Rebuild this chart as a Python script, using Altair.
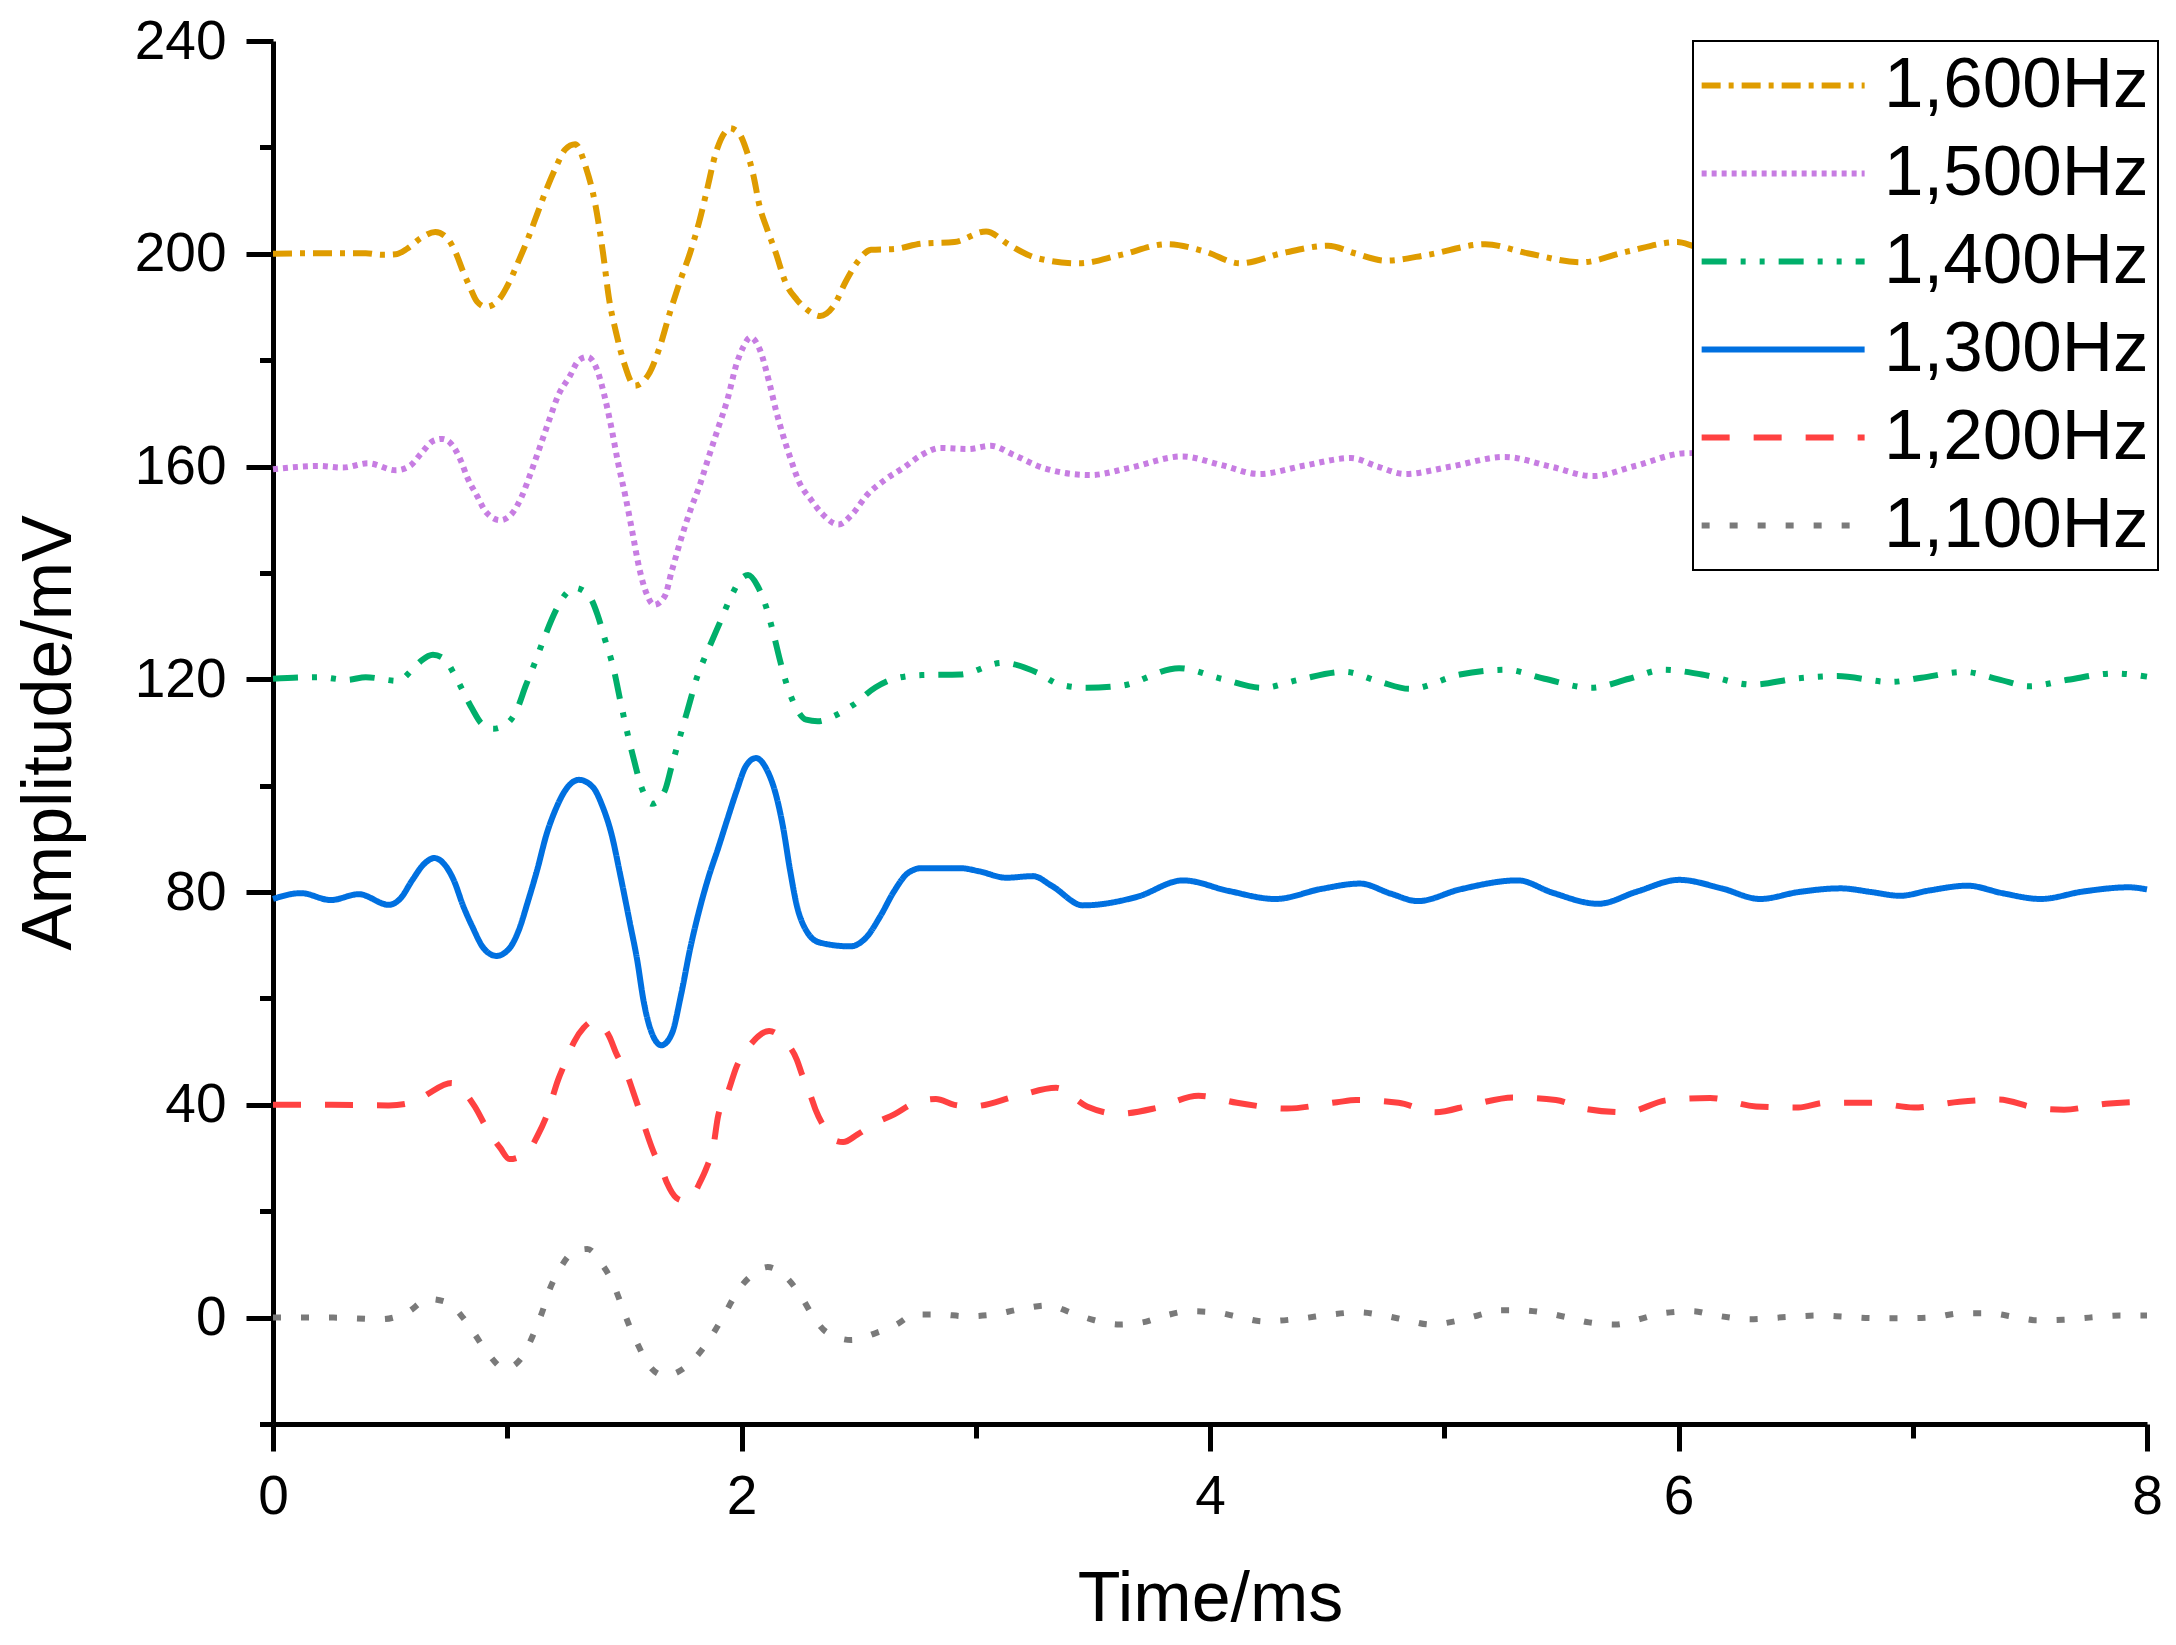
import altair as alt
import pandas as pd

series_names = ["1,600Hz", "1,500Hz", "1,400Hz", "1,300Hz", "1,200Hz", "1,100Hz"]
colors = ["#DF9C00", "#C77DE2", "#00AF6B", "#0070E0", "#FF4141", "#7A7A7A"]
dashes = [[19, 8, 5, 8], [5, 5], [25, 14, 5, 14, 5, 14], [1, 0], [28, 24], [8, 20]]

x_ticks = [0, 1, 2, 3, 4, 5, 6, 7, 8]
y_ticks = [-20, 0, 20, 40, 60, 80, 100, 120, 140, 160, 180, 200, 220, 240]

# (time in ms, amplitude in mV)
s1600 = [(0, 200), (0.198, 200.1), (0.396, 200.1), (0.465, 199.8), (0.524, 199.9), (0.574, 201),
         (0.633, 203), (0.693, 204.1), (0.742, 203), (0.782, 200), (0.811, 196.7), (0.841, 193.7),
         (0.871, 191), (0.91, 190), (0.97, 191.7), (1.009, 194.7), (1.049, 198.7), (1.088, 202.8),
         (1.128, 207.5), (1.168, 212.2), (1.207, 216.2), (1.247, 219.6), (1.29, 220.6), (1.336, 216.2),
         (1.375, 209.5), (1.409, 200.1), (1.435, 191.4), (1.464, 185.3), (1.5, 179.3), (1.544, 175.2),
         (1.603, 177.3), (1.652, 182.6), (1.692, 188.6), (1.742, 195.4), (1.78, 200.1), (1.82, 206.1),
         (1.85, 211.5), (1.89, 218.9), (1.93, 222.9), (1.95, 223.6), (1.99, 222.6), (2.02, 219.6),
         (2.05, 214.9), (2.078, 208.8), (2.108, 204.8), (2.147, 200.1), (2.187, 194.7), (2.236, 191.4),
         (2.286, 189.3), (2.335, 188.3), (2.395, 190.3), (2.444, 194.7), (2.494, 198.4), (2.553, 200.75),
         (2.652, 200.9), (2.77, 201.9), (2.909, 202.2), (3.044, 204.2), (3.145, 201.6), (3.26, 199.2),
         (3.44, 198.2), (3.62, 199.8), (3.817, 201.8), (3.98, 200.4), (4.128, 198.2), (4.308, 200.1),
         (4.504, 201.5), (4.618, 200.1), (4.75, 198.7), (4.93, 199.8), (5.175, 201.8), (5.355, 200.1),
         (5.585, 198.4), (5.78, 200.4), (5.995, 202.2), (6.07, 201.4), (6.3, 199.5), (6.6, 198.8),
         (6.9, 200.5), (7.2, 201.5), (7.5, 199.5), (7.8, 200.5), (8.0, 201.0)]

s1500 = [(0, 159.5), (0.198, 160.1), (0.297, 159.8), (0.406, 160.6), (0.524, 159.3), (0.584, 160.1),
         (0.633, 162.5), (0.683, 164.8), (0.722, 165.2), (0.762, 164.2), (0.801, 161.2), (0.831, 157.8),
         (0.871, 154.5), (0.91, 151.4), (0.97, 149.9), (1.019, 151.1), (1.059, 154.1), (1.098, 158.5),
         (1.138, 163.5), (1.178, 168.6), (1.217, 173.3), (1.267, 177.0), (1.306, 180.0), (1.342, 180.6),
         (1.385, 178.0), (1.415, 173.3), (1.445, 167.2), (1.474, 160.5), (1.504, 154.5), (1.534, 147.7),
         (1.563, 141.0), (1.593, 136.3), (1.627, 134.0), (1.672, 135.6), (1.702, 140.3), (1.742, 146.4),
         (1.781, 151.7), (1.821, 156.4), (1.86, 161.8), (1.9, 167.2), (1.94, 172.6), (1.979, 179.3),
         (2.009, 182.6), (2.038, 184.3), (2.078, 182.0), (2.118, 175.9), (2.147, 170.6), (2.177, 165.9),
         (2.207, 161.8), (2.246, 157.1), (2.296, 153.8), (2.345, 151.1), (2.414, 149.1), (2.474, 151.1),
         (2.533, 154.5), (2.612, 157.5), (2.692, 159.8), (2.77, 162.2), (2.85, 163.5), (2.968, 163.3),
         (3.064, 163.9), (3.162, 162.2), (3.29, 159.7), (3.49, 158.4), (3.652, 159.7), (3.882, 161.9),
         (4.046, 160.3), (4.209, 158.6), (4.405, 160.2), (4.602, 161.6), (4.716, 160.0), (4.832, 158.6),
         (5.028, 160.0), (5.257, 161.8), (5.454, 160.0), (5.634, 158.2), (5.814, 160.1), (6.027, 162.5),
         (6.2, 162.6), (6.45, 160.5), (6.7, 158.8), (6.95, 160.5), (7.2, 162.0), (7.45, 160.5),
         (7.7, 159.0), (8.0, 161.0)]

s1400 = [(0, 120.1), (0.198, 120.4), (0.317, 119.9), (0.396, 120.4), (0.534, 119.7), (0.594, 121.8),
         (0.633, 123.5), (0.683, 124.6), (0.732, 123.8), (0.772, 121.1), (0.811, 117.8), (0.851, 114.4),
         (0.89, 111.7), (0.94, 110.7), (1.0, 111.7), (1.039, 114.1), (1.079, 118.8), (1.118, 123.1),
         (1.158, 127.8), (1.207, 132.9), (1.247, 135.9), (1.286, 137.2), (1.346, 135.9), (1.385, 132.2),
         (1.415, 127.8), (1.455, 121.8), (1.484, 115.7), (1.514, 109.7), (1.544, 104.3), (1.573, 99.7),
         (1.619, 96.6), (1.672, 99.0), (1.702, 103.7), (1.732, 108.4), (1.771, 114.4), (1.811, 120.5),
         (1.86, 125.8), (1.91, 130.9), (1.959, 135.9), (1.999, 138.9), (2.028, 139.6), (2.068, 137.6),
         (2.108, 133.2), (2.137, 128.5), (2.167, 123.1), (2.197, 118.5), (2.236, 114.4), (2.276, 112.4),
         (2.325, 112.1), (2.395, 113.1), (2.474, 115.1), (2.573, 118.5), (2.652, 120.1), (2.77, 120.8),
         (2.933, 120.9), (3.113, 123.1), (3.261, 121.3), (3.36, 119.0), (3.475, 118.4), (3.622, 118.8),
         (3.868, 122.1), (4.049, 120.1), (4.223, 118.4), (4.378, 119.9), (4.575, 121.4), (4.72, 119.6),
         (4.854, 118.2), (5.067, 120.9), (5.264, 121.8), (5.428, 120.1), (5.626, 118.4), (5.789, 120.1),
         (5.937, 121.8), (6.1, 120.9), (6.315, 119.0), (6.512, 120.2), (6.677, 120.6), (6.906, 119.5),
         (7.037, 120.3), (7.218, 121.4), (7.366, 120.0), (7.496, 118.7), (7.661, 119.9), (7.858, 121.1),
         (8.0, 120.5)]

s1300 = [(0, 78.7), (0.119, 79.8), (0.247, 78.5), (0.366, 79.6), (0.495, 77.6), (0.544, 78.8),
         (0.594, 82.2), (0.643, 85.2), (0.689, 86.4), (0.732, 85.2), (0.772, 82.2), (0.811, 77.5),
         (0.851, 73.5), (0.9, 69.4), (0.954, 68.0), (1.009, 69.4), (1.049, 72.8), (1.088, 78.2),
         (1.128, 84.2), (1.168, 90.9), (1.207, 95.6), (1.257, 99.7), (1.306, 101.1), (1.366, 99.7),
         (1.405, 96.3), (1.445, 90.9), (1.484, 82.9), (1.524, 74.1), (1.554, 67.4), (1.583, 59.3),
         (1.613, 54.0), (1.658, 51.2), (1.702, 53.3), (1.742, 60.7), (1.781, 69.4), (1.821, 76.8),
         (1.86, 82.9), (1.9, 88.2), (1.939, 93.6), (1.979, 99.0), (2.019, 103.7), (2.062, 105.2),
         (2.108, 103.0), (2.147, 98.3), (2.177, 92.3), (2.207, 84.2), (2.236, 77.5), (2.276, 72.8),
         (2.335, 70.5), (2.464, 69.8), (2.533, 71.5), (2.593, 75.5), (2.652, 80.2), (2.711, 83.6),
         (2.77, 84.5), (2.933, 84.5), (3.015, 83.9), (3.13, 82.7), (3.244, 83.0), (3.327, 81.1),
         (3.458, 77.5), (3.688, 79.1), (3.885, 82.2), (4.081, 80.2), (4.279, 78.7), (4.476, 80.6),
         (4.64, 81.6), (4.772, 79.7), (4.887, 78.3), (5.067, 80.5), (5.314, 82.2), (5.461, 79.9),
         (5.658, 77.8), (5.823, 80.1), (6.003, 82.3), (6.184, 80.7), (6.348, 78.7), (6.512, 80.0),
         (6.693, 80.7), (6.824, 80.0), (6.946, 79.3), (7.07, 80.3), (7.234, 81.2), (7.382, 79.8),
         (7.546, 78.7), (7.727, 80.1), (7.923, 80.9), (8.0, 80.5)]

s1200 = [(0, 40.0), (0.25, 40.0), (0.495, 39.9), (0.613, 40.7), (0.66, 42.0), (0.762, 44.1),
         (0.80, 43.2), (0.861, 39.7), (0.92, 35.0), (0.97, 31.9), (1.009, 29.8), (1.088, 31.2),
         (1.128, 34.1), (1.168, 37.9), (1.217, 44.7), (1.247, 47.9), (1.286, 51.9), (1.326, 54.5),
         (1.366, 55.7), (1.435, 52.9), (1.464, 49.8), (1.514, 45.4), (1.534, 42.9), (1.573, 37.8),
         (1.593, 35.0), (1.633, 30.3), (1.652, 28.8), (1.682, 25.3), (1.722, 22.5), (1.751, 22.0),
         (1.781, 22.3), (1.821, 25.3), (1.85, 28.1), (1.88, 32.2), (1.9, 37.9), (1.92, 40.4),
         (1.94, 42.2), (1.979, 47.2), (2.038, 51.3), (2.118, 53.9), (2.177, 52.3), (2.236, 48.5),
         (2.256, 46.0), (2.296, 41.6), (2.316, 39.1), (2.355, 35.7), (2.395, 33.4), (2.434, 33.0),
         (2.494, 34.4), (2.573, 36.6), (2.652, 38.2), (2.731, 40.2), (2.83, 41.1), (2.909, 40.0),
         (2.982, 39.7), (3.179, 41.7), (3.343, 43.2), (3.475, 39.7), (3.606, 38.3), (3.77, 39.4),
         (3.951, 41.7), (4.115, 40.4), (4.329, 39.3), (4.542, 40.5), (4.624, 40.9), (4.805, 40.4),
         (4.962, 38.6), (5.116, 40.0), (5.297, 41.4), (5.477, 40.9), (5.609, 39.2), (5.773, 38.6),
         (5.954, 40.9), (6.135, 41.3), (6.331, 39.7), (6.512, 39.5), (6.627, 40.4), (6.824, 40.4),
         (7.005, 39.5), (7.2, 40.6), (7.366, 41.0), (7.531, 39.4), (7.646, 39.1), (7.825, 40.2),
         (8.0, 40.6)]

s1100 = [(0, 0.0), (0.257, 0.0), (0.465, -0.3), (0.574, 1.0), (0.663, 3.5), (0.742, 2.9),
         (0.811, 0.0), (0.861, -3.1), (0.92, -6.9), (0.99, -9.6), (1.059, -7.7), (1.108, -3.5),
         (1.148, 0.9), (1.181, 5.3), (1.221, 8.9), (1.282, 12.3), (1.342, 12.9), (1.405, 10.0),
         (1.45, 6.6), (1.484, 2.8), (1.52, -1.4), (1.56, -5.3), (1.6, -8.7), (1.672, -10.9),
         (1.761, -9.3), (1.837, -5.7), (1.89, -2.2), (1.935, 1.2), (1.979, 4.7), (2.032, 7.5),
         (2.112, 9.5), (2.197, 7.3), (2.256, 3.9), (2.306, 0.2), (2.365, -2.8), (2.468, -4.2),
         (2.573, -2.9), (2.658, -1.4), (2.741, 0.6), (2.844, 0.6), (2.958, 0.25), (3.08, 0.6),
         (3.179, 1.5), (3.31, 2.3), (3.409, 0.9), (3.507, -0.5), (3.612, -1.3), (3.711, -0.9),
         (3.81, 0.4), (3.911, 1.2), (4.023, 1.0), (4.124, 0.1), (4.23, -0.7), (4.4, -0.1),
         (4.502, 0.5), (4.636, 1.0), (4.742, 0.4), (4.841, -0.5), (4.942, -1.3), (5.044, -0.7),
         (5.143, 0.4), (5.245, 1.4), (5.317, 1.4), (5.419, 1.0), (5.52, 0.1), (5.618, -0.9),
         (5.731, -1.3), (5.832, -0.3), (5.931, 0.8), (6.059, 1.2), (6.16, 0.4), (6.305, -0.3),
         (6.459, 0.1), (6.598, 0.4), (6.702, 0.2), (6.837, -0.1), (6.975, -0.1), (7.093, 0.1),
         (7.202, 0.8), (7.333, 0.8), (7.425, 0.2), (7.531, -0.5), (7.642, -0.4), (7.753, 0.0),
         (7.885, 0.4), (8.0, 0.4)]

all_series = [s1600, s1500, s1400, s1300, s1200, s1100]

rows = []
for name, pts in zip(series_names, all_series):
    for t, v in pts:
        rows.append({"series": name, "t": t, "v": v})
df = pd.DataFrame(rows)

FONT = "Liberation Sans"

legend = alt.Legend(
    title=None,
    orient="none",
    legendX=1420,
    legendY=0,
    strokeColor="black",
    fillColor="white",
    padding=9,
    labelFont=FONT,
    labelFontSize=71,
    labelColor="black",
    labelOffset=111,
    labelLimit=600,
    symbolType="M-1.76,0H6.24",
    symbolSize=1660,
    symbolStrokeWidth=6,
    rowPadding=16,
)

x_axis = alt.Axis(
    values=x_ticks,
    labelExpr="datum.value % 2 === 0 ? datum.label : ''",
    tickSize=27,
    tickWidth=5,
    tickColor="black",
    tickDash={"condition": {"test": "datum.value % 2 !== 0", "value": [14, 60]}, "value": [60, 1]},
    domainWidth=5,
    domainColor="black",
    grid=False,
    labelFont=FONT,
    labelFontSize=55,
    labelColor="black",
    labelPadding=19.5,
    labelFlush=False,
    labelOverlap=False,
    title="Time/ms",
    titleFont=FONT,
    titleFontSize=70,
    titleFontWeight="normal",
    titleColor="black",
    titleX=937,
    titleY=196,
    titleBaseline="alphabetic",
    titleAlign="center",
)

y_axis = alt.Axis(
    values=y_ticks,
    labelExpr="datum.value % 40 === 0 ? datum.label : ''",
    tickSize=27,
    tickWidth=5,
    tickColor="black",
    tickDash={"condition": {"test": "datum.value % 40 !== 0", "value": [13.5, 60]}, "value": [60, 1]},
    domainWidth=5,
    domainColor="black",
    grid=False,
    labelFont=FONT,
    labelFontSize=55,
    labelColor="black",
    labelPadding=20,
    labelOverlap=False,
    title="Amplitude/mV",
    titleFont=FONT,
    titleFontSize=70,
    titleFontWeight="normal",
    titleColor="black",
    titleX=-203,
    titleY=691.5,
    titleAngle=270,
    titleBaseline="alphabetic",
    titleAlign="center",
)

chart = (
    alt.Chart(df)
    .mark_line(strokeWidth=6, interpolate="monotone", strokeCap="butt", strokeJoin="round")
    .encode(
        x=alt.X("t:Q", scale=alt.Scale(domain=[0, 8], nice=False, zero=False), axis=x_axis),
        y=alt.Y("v:Q", scale=alt.Scale(domain=[-20, 240], nice=False, zero=False), axis=y_axis),
        stroke=alt.Stroke("series:N", scale=alt.Scale(domain=series_names, range=colors), legend=legend),
        strokeDash=alt.StrokeDash("series:N", scale=alt.Scale(domain=series_names, range=dashes), legend=legend),
    )
    .properties(
        width=1874,
        height=1383,
        autosize="none",
        padding={"left": 265, "top": 33, "right": 20, "bottom": 210},
        background="white",
    )
    .configure(font=FONT)
    .configure_view(stroke=None)
    .configure_legend(strokeWidth=2)
)

chart.save("out.html", embed_options={"renderer": "svg", "actions": False})
